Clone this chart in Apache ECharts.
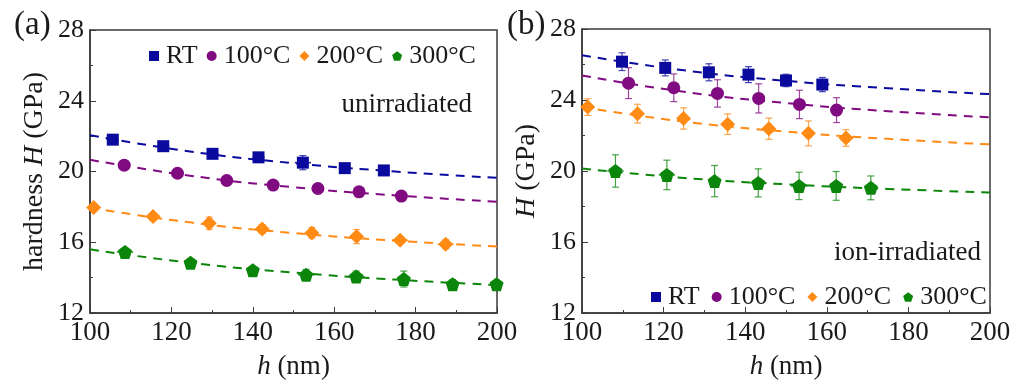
<!DOCTYPE html>
<html>
<head>
<meta charset="utf-8">
<script src="https://cdn.jsdelivr.net/npm/echarts@6/dist/echarts.min.js"></script>
<style>
  html, body { margin: 0; padding: 0; background: #fff; }
  #chart { width: 1023px; height: 385px; }
</style>
</head>
<body>
<div id="chart"></div>
<script>
// Indentation depth h (nm) vs. hardness H (GPa): [h, H, dH, dh]
const seriesNames = ['RT', '100°C', '200°C', '300°C'];
const xTicks = [100, 120, 140, 160, 180, 200];
const yTicks = [12, 16, 20, 24, 28];

// (a) unirradiated
const unirrRT = [[105.6, 21.8, 0.15, 1.5], [118.0, 21.43, 0.12, 1.5], [130.1, 21.0, 0.2, 1.5], [141.4, 20.8, 0.2, 1.5], [152.3, 20.5, 0.4, 2], [162.6, 20.19, 0.1, 1.5], [172.2, 20.06, 0.12, 1.5]];
const unirr100 = [[108.4, 20.36, 0.15, 1.5], [121.5, 19.9, 0.12, 1.5], [133.6, 19.49, 0.12, 1.5], [145.0, 19.23, 0.15, 1.5], [156.0, 19.04, 0.15, 1.5], [166.1, 18.85, 0.15, 1.5], [176.5, 18.61, 0.2, 1.5]];
const unirr200 = [[100.9, 17.97, 0.2, 1.5], [115.5, 17.45, 0.2, 1.5], [129.3, 17.07, 0.35, 1.5], [142.3, 16.75, 0.25, 1.5], [154.5, 16.53, 0.3, 1.5], [165.5, 16.32, 0.4, 1.5], [176.2, 16.11, 0.2, 2], [187.4, 15.89, 0.25, 2]];
const unirr300 = [[108.6, 15.45, 0.2, 2], [124.7, 14.84, 0.2, 1.5], [140.0, 14.42, 0.15, 1.5], [153.1, 14.16, 0.3, 2], [165.4, 14.07, 0.3, 2], [177.1, 13.92, 0.45, 1.5], [189.1, 13.63, 0.25, 1.5], [199.9, 13.63, 0.2, 1.5]];

// (b) ion-irradiated
const ionRT = [[109.8, 26.16, 0.5, 1], [120.4, 25.81, 0.45, 1], [131.1, 25.56, 0.48, 1], [140.8, 25.43, 0.45, 1], [150.0, 25.1, 0.35, 1], [158.9, 24.87, 0.4, 1]];
const ion100 = [[111.4, 24.95, 0.87, 1.5], [122.5, 24.69, 0.78, 1.5], [133.2, 24.37, 0.77, 1.5], [143.3, 24.09, 0.82, 1.5], [153.3, 23.75, 0.8, 1.5], [162.4, 23.43, 0.7, 1.5]];
const ion200 = [[101.4, 23.6, 0.47, 1.5], [113.6, 23.23, 0.53, 1.5], [124.9, 22.96, 0.6, 1.5], [135.7, 22.64, 0.58, 1.5], [145.8, 22.38, 0.6, 1.5], [155.5, 22.12, 0.7, 1.5], [164.7, 21.86, 0.47, 1.5]];
const ion300 = [[108.2, 20.0, 0.91, 2], [120.8, 19.78, 0.83, 2], [132.5, 19.43, 0.88, 1.5], [143.2, 19.33, 0.79, 2], [153.2, 19.16, 0.77, 2], [162.3, 19.16, 0.81, 1.5], [170.8, 19.05, 0.67, 1.5]];

// Dashed fit curves, sampled along h
const fitDepth = [100, 125, 150, 175, 200];
const unirrFitRT = [22.05, 21.12, 20.47, 20.0, 19.64];
const unirrFit100 = [20.66, 19.75, 19.11, 18.65, 18.29];
const unirrFit200 = [17.95, 17.11, 16.52, 16.09, 15.76];
const unirrFit300 = [15.6, 14.83, 14.29, 13.89, 13.58];
const ionFitRT = [26.52, 25.67, 25.08, 24.66, 24.33];
const ionFit100 = [25.38, 24.46, 23.83, 23.37, 23.02];
const ionFit200 = [23.6, 22.78, 22.22, 21.81, 21.5];
const ionFit300 = [20.14, 19.61, 19.25, 18.99, 18.79];

const colors = ['#0a0a9e', '#800a80', '#ff8a14', '#0b860b'];
const pentagon = 'path://M0,-10 L9.51,-3.09 L5.88,8.09 L-5.88,8.09 L-9.51,-3.09 Z';
const symbols = ['rect', 'circle', 'diamond', pentagon];
const symbolSizes = [12, 13, 15, 14];

const FONT = "'Liberation Serif', 'DejaVu Serif', serif";
const TXT = '#1a1a1a';
const AXC = '#3a3a3a';

const grids = [
  { left: 90, top: 30, width: 407, height: 284 },
  { left: 582, top: 29, width: 408, height: 285 }
];

function richName(size) {
  return { fontFamily: FONT, fontSize: size, color: TXT,
    rich: { i: { fontStyle: 'italic', fontFamily: FONT, fontSize: size, color: TXT }, n: { fontFamily: FONT, fontSize: size, color: TXT } } };
}
function makeXAxis(gi) {
  return {
    gridIndex: gi, type: 'value', min: 100, max: 200, interval: 20,
    name: '{i|h}{n| (nm)}', nameLocation: 'middle', nameGap: 40,
    nameTextStyle: richName(27),
    axisLine: { show: true, lineStyle: { color: AXC, width: 1.5 } },
    axisTick: { show: true, inside: true, length: 6, lineStyle: { color: AXC } },
    minorTick: { show: true, splitNumber: 2, length: 3, lineStyle: { color: AXC } },
    splitLine: { show: false },
    axisLabel: { fontFamily: FONT, fontSize: 27, color: TXT, margin: 6,
      formatter: v => xTicks.includes(v) ? String(v) : '' }
  };
}
function makeYAxis(gi, nameRich) {
  return {
    gridIndex: gi, type: 'value', min: 12, max: 28, interval: 4,
    name: nameRich, nameLocation: 'middle', nameGap: 41, nameRotate: 90,
    nameTextStyle: richName(28),
    axisLine: { show: true, lineStyle: { color: AXC, width: 1.5 } },
    axisTick: { show: true, inside: true, length: 6, lineStyle: { color: AXC } },
    minorTick: { show: true, splitNumber: 2, length: 3, lineStyle: { color: AXC } },
    splitLine: { show: false },
    axisLabel: { fontFamily: FONT, fontSize: 26, color: TXT, margin: 6,
      formatter: v => yTicks.includes(v) ? String(v) : '' }
  };
}

function errorBars(data, gi, color) {
  return {
    type: 'custom', xAxisIndex: gi, yAxisIndex: gi, z: 3, silent: true,
    data: data, encode: { x: 0, y: 1 },
    itemStyle: { color: color },
    renderItem: function (params, api) {
      const x = api.value(0), y = api.value(1), dy = api.value(2), dx = api.value(3);
      const lo = api.coord([x, y - dy]), hi = api.coord([x, y + dy]);
      const le = api.coord([x - dx, y]), ri = api.coord([x + dx, y]);
      const cap = 3.5;
      const style = { stroke: color, lineWidth: 1.2, opacity: 0.75 };
      return { type: 'group', children: [
        { type: 'line', shape: { x1: lo[0], y1: lo[1], x2: hi[0], y2: hi[1] }, style },
        { type: 'line', shape: { x1: lo[0] - cap, y1: lo[1], x2: lo[0] + cap, y2: lo[1] }, style },
        { type: 'line', shape: { x1: hi[0] - cap, y1: hi[1], x2: hi[0] + cap, y2: hi[1] }, style },
        { type: 'line', shape: { x1: le[0], y1: le[1], x2: ri[0], y2: ri[1] }, style: { stroke: color, lineWidth: 1.6, opacity: 0.85 } }
      ] };
    }
  };
}
function fitLine(vals, gi, color) {
  return {
    type: 'line', xAxisIndex: gi, yAxisIndex: gi, z: 2, silent: true,
    data: fitDepth.map((h, i) => [h, vals[i]]),
    smooth: true, showSymbol: false, symbol: 'none',
    lineStyle: { color: color, width: 2, type: [9, 7] }
  };
}
function points(name, data, gi, k) {
  return {
    type: 'scatter', name: name, xAxisIndex: gi, yAxisIndex: gi, z: 4,
    data: data.map(d => [d[0], d[1]]),
    symbol: symbols[k], symbolSize: symbolSizes[k],
    itemStyle: { color: colors[k], opacity: 1 }
  };
}

const panelA = [unirrRT, unirr100, unirr200, unirr300];
const panelAFit = [unirrFitRT, unirrFit100, unirrFit200, unirrFit300];
const panelB = [ionRT, ion100, ion200, ion300];
const panelBFit = [ionFitRT, ionFit100, ionFit200, ionFit300];

const series = [];
[[panelA, panelAFit, 0], [panelB, panelBFit, 1]].forEach(([pts, fits, gi]) => {
  fits.forEach((f, k) => series.push(fitLine(f, gi, colors[k])));
  pts.forEach((d, k) => series.push(errorBars(d, gi, colors[k])));
  pts.forEach((d, k) => series.push(points(seriesNames[k], d, gi, k)));
});

function makeLegend(left, top, gap) {
  return {
    left: left, top: top, orient: 'horizontal',
    itemWidth: 10, itemHeight: 10, itemGap: gap, selectedMode: false,
    textStyle: { fontFamily: FONT, fontSize: 26, color: TXT, padding: [0, 0, 0, 2] },
    data: seriesNames.map((n, k) => ({ name: n, icon: symbols[k], itemStyle: { color: colors[k] } }))
  };
}

const chart = echarts.init(document.getElementById('chart'), null, { renderer: 'canvas' });
chart.setOption({
  animation: false,
  backgroundColor: '#ffffff',
  grid: grids.map(g => Object.assign({ show: true, borderColor: AXC, borderWidth: 1.5, backgroundColor: 'transparent' }, g)),
  xAxis: [makeXAxis(0), makeXAxis(1)],
  yAxis: [makeYAxis(0, '{n|hardness }{i|H}{n| (GPa)}'), makeYAxis(1, '{i|H}{n| (GPa)}')],
  legend: [makeLegend(144, 38, 9), makeLegend(646, 279, 12)],
  graphic: [
    { type: 'text', left: 14, top: 9, style: { text: '(a)', font: "33px 'Liberation Serif', serif", fill: TXT } },
    { type: 'text', left: 507, top: 9, style: { text: '(b)', font: "33px 'Liberation Serif', serif", fill: TXT } },
    { type: 'text', right: 1023 - 472, top: 91, style: { text: 'unirradiated', font: "27px 'Liberation Serif', serif", fill: TXT, textAlign: 'right' } },
    { type: 'text', right: 1023 - 981, top: 239, style: { text: 'ion-irradiated', font: "27px 'Liberation Serif', serif", fill: TXT, textAlign: 'right' } }
  ],
  series: series
});
</script>
</body>
</html>
